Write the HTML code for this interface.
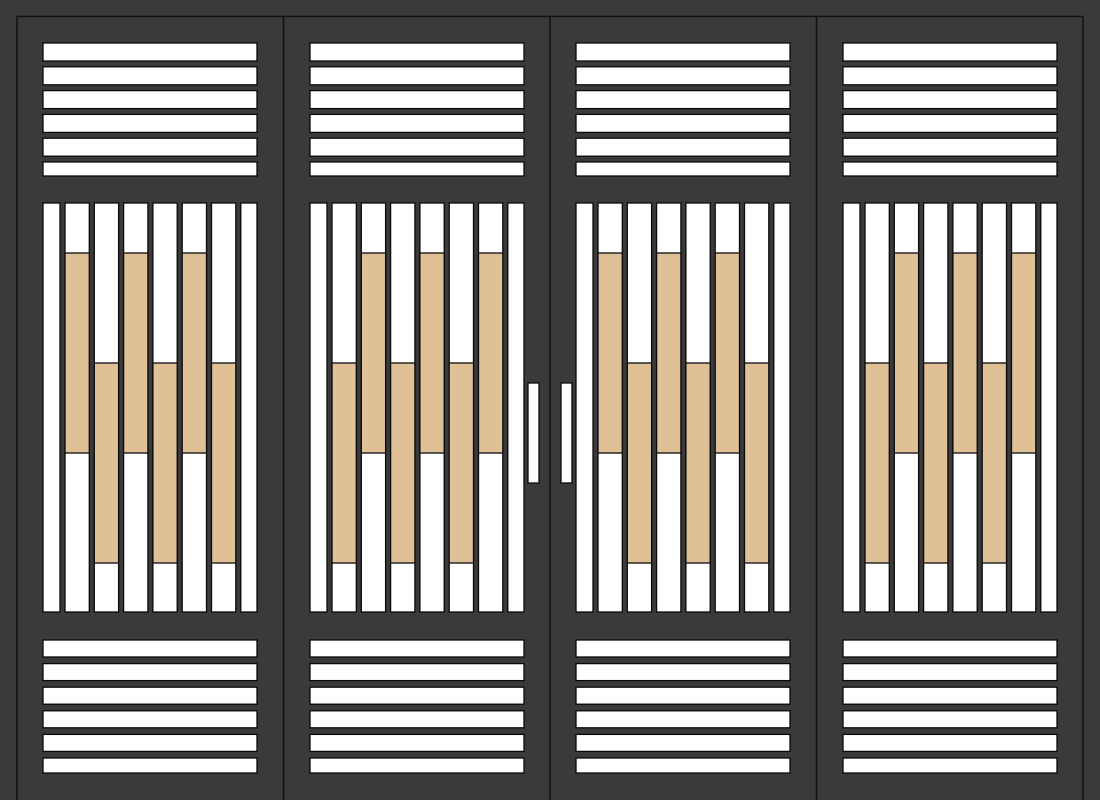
<!DOCTYPE html>
<html><head><meta charset="utf-8"><style>
html,body{margin:0;padding:0;background:#3a3a3a;}
svg{display:block;}
</style></head><body>
<svg id="s" width="1100" height="800" viewBox="0 0 1100 800" xmlns="http://www.w3.org/2000/svg">
<rect x="0" y="0" width="1100" height="800" fill="#3a3a3a"/>
<rect x="17" y="16.5" width="1066" height="790" fill="none" stroke="#111" stroke-width="1.5"/>
<g id="g"></g>
</svg>
<script>
var g=document.getElementById('g'),h='';
function r(x,y,w,hh,f){h+='<rect x="'+x+'" y="'+y+'" width="'+w+'" height="'+hh+'" fill="'+f+'" stroke="#0a0a0a" stroke-width="1.3"/>';}
[283.5,550,816.5].forEach(function(x){h+='<line x1="'+x+'" y1="16" x2="'+x+'" y2="800" stroke="#111" stroke-width="1.5"/>';});
var offs=[0,267,533,800];
offs.forEach(function(o,p){
  var x0=43+o, W=214;
  for(var i=0;i<6;i++){var y=43+i*23.8;r(x0,y,W,(i==5?176-y:18),'#fff');}
  for(var i=0;i<6;i++){var y=640+i*23.6;r(x0,y,W,(i==5?773-y:17),'#fff');}
  var pitch=29.3;
  for(var c=0;c<8;c++){
    var xs=c==0?x0:x0+17+5+(c-1)*pitch;
    var xe=c==7?x0+W:x0+17+c*pitch;
    r(xs,203,xe-xs,409,'#fff');
    if(c>=1&&c<=6){
      var high=(p%2==0)?(c%2==1):(c%2==0);
      var y1=high?253:363;
      r(xs,y1,xe-xs,200,'#e0c097');
    }
  }
});
r(528,383,11,100,'#fff');
r(561,383,11,100,'#fff');
g.innerHTML=h;
</script>
</body></html>
